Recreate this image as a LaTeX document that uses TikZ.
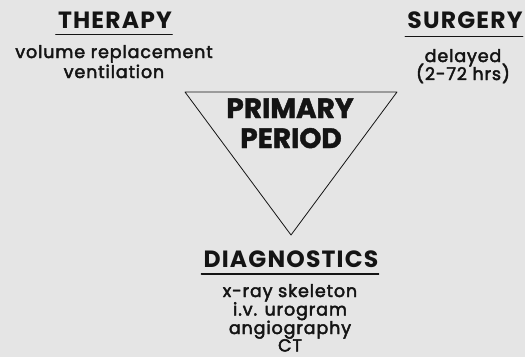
\documentclass[tikz,border=0pt]{standalone}
\usepackage{fontspec}
\setmainfont{Poppins}
\newfontfamily\headfont{Poppins}[LetterSpace=5]
\newfontfamily\itemfont{Poppins}[LetterSpace=5, FakeBold=2.6]
\newfontfamily\periodfont{Poppins}[FakeBold=1.5]
\usetikzlibrary{positioning}

\definecolor{paper}{RGB}{229,229,229}
\definecolor{ink}{RGB}{20,20,20}

\begin{document}
\begin{tikzpicture}[
  x=1bp, y=-1bp,
  line cap=round,
  line join=round,
  head/.style={anchor=base, text=ink, inner sep=0pt, font=\headfont\bfseries\fontsize{23.5bp}{26bp}\selectfont},
  item/.style={anchor=base, text=ink, inner sep=0pt, font=\itemfont\fontsize{17.5bp}{20bp}\selectfont},
  period/.style={anchor=base, text=ink, inner sep=0pt, font=\periodfont\bfseries\fontsize{28bp}{30bp}\selectfont},
  rule/.style={draw=ink, line width=1.4pt},
  outline/.style={draw=ink, line width=0.8pt}
]

% Page and background.
\fill[paper] (0,0) rectangle (525,357);
\useasboundingbox (0,0) rectangle (525,357);

% Central triangle.
\coordinate (tl) at (185,92);
\coordinate (tr) at (397,92);
\coordinate (tb) at (291,235);
\draw[outline] (tl) -- (tr) -- (tb) -- cycle;
\node[period] (primary) at (290,118) {PRIMARY};
\node[period] (period) at (291,148) {PERIOD};

% Therapy.
\node[head] (therapy) at (115,28) {THERAPY};
\draw[rule] ([xshift=-2bp,yshift=-6.5bp]therapy.base west) -- ([yshift=-6.5bp]therapy.base east);
\node[item] (volume) at (114,58) {volume replacement};
\node[item] (vent) at (114,78) {ventilation};

% Surgery.
\node[head] (surgery) at (465,28) {SURGERY};
\draw[rule] ([xshift=-2bp,yshift=-8.5bp]surgery.base west) -- ([yshift=-8.5bp]surgery.base east);
\node[item] (delayed) at (463,62) {delayed};
\node[item] (hours) at (463,80) {(2-72 hrs)};

% Diagnostics.
\node[head] (diag) at (291,267) {DIAGNOSTICS};
\draw[rule] ([xshift=-2bp,yshift=-7bp]diag.base west) -- ([yshift=-7bp]diag.base east);
\node[item] (xray) at (290,297) {x-ray skeleton};
\node[item] (urogram) at (290,315.5) {i.v. urogram};
\node[item] (angio) at (290,334) {angiography};
\node[item] (ct) at (290,351.5) {CT};

\end{tikzpicture}
\end{document}
